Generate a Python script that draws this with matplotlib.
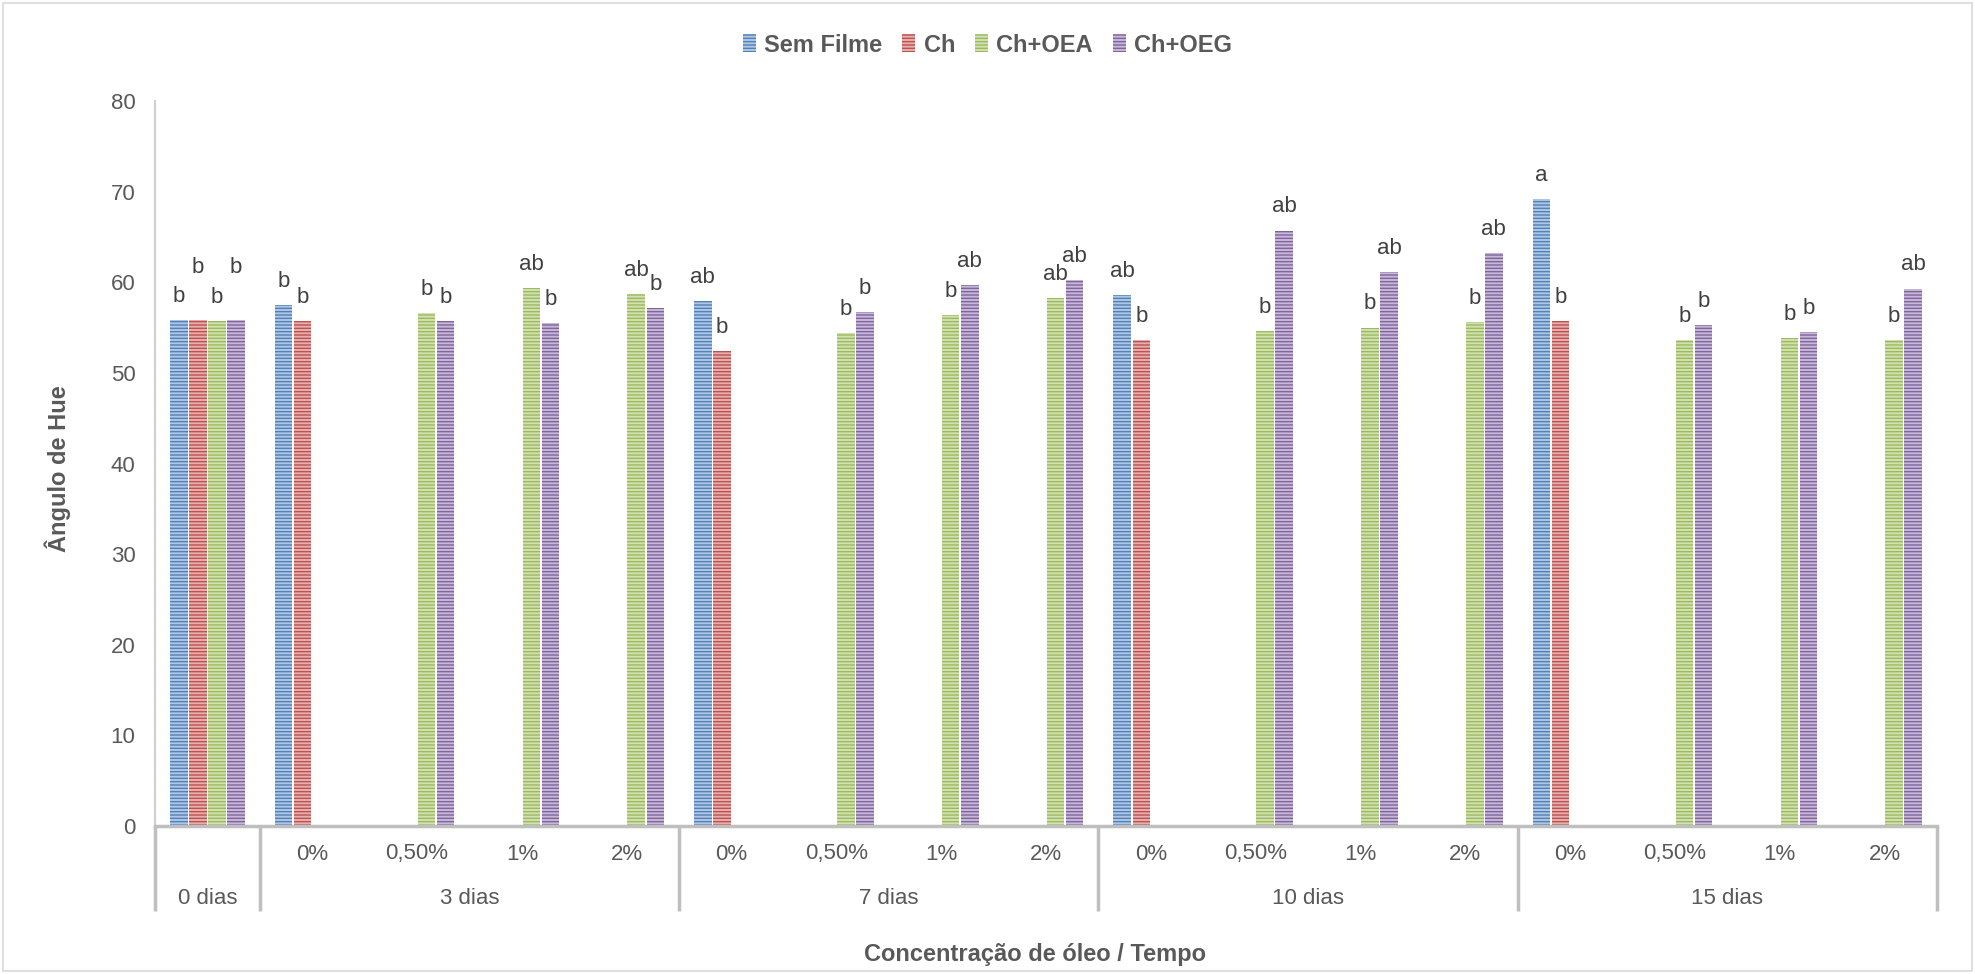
import numpy as np
import matplotlib
matplotlib.use("Agg")
import matplotlib.pyplot as plt
from matplotlib.colors import to_rgb

plt.rcParams["font.family"] = ["Liberation Sans", "DejaVu Sans"]
plt.rcParams["hatch.linewidth"] = 1.0

# categories: (concentration, storage time)
subcats = ["", "0%", "0,50%", "1%", "2%", "0%", "0,50%", "1%", "2%",
           "0%", "0,50%", "1%", "2%", "0%", "0,50%", "1%", "2%"]
groups = ["0 dias", "3 dias", "7 dias", "10 dias", "15 dias"]
group_sizes = [1, 4, 4, 4, 4]

series = ["Sem Filme", "Ch", "Ch+OEA", "Ch+OEG"]
colors = ["#4F81BD", "#C0504D", "#9BBB59", "#8064A2"]

nan = np.nan
sem_filme = [55.8, 57.5, nan, nan, nan, 57.9, nan, nan, nan, 58.6, nan, nan, nan, 69.2, nan, nan, nan]
ch = [55.8, 55.7, nan, nan, nan, 52.4, nan, nan, nan, 53.6, nan, nan, nan, 55.7, nan, nan, nan]
ch_oea = [55.7, nan, 56.6, 59.4, 58.7, nan, 54.4, 56.4, 58.3, nan, 54.6, 55.0, 55.6, nan, 53.6, 53.8, 53.6]
ch_oeg = [55.8, nan, 55.7, 55.5, 57.2, nan, 56.7, 59.7, 60.2, nan, 65.7, 61.1, 63.2, nan, 55.3, 54.5, 59.3]

let_sem_filme = ["b", "b", "", "", "", "ab", "", "", "", "ab", "", "", "", "a", "", "", ""]
let_ch = ["b", "b", "", "", "", "b", "", "", "", "b", "", "", "", "b", "", "", ""]
let_ch_oea = ["b", "", "b", "ab", "ab", "", "b", "b", "ab", "", "b", "b", "b", "", "b", "b", "b"]
let_ch_oeg = ["b", "", "b", "b", "b", "", "b", "ab", "ab", "", "ab", "ab", "ab", "", "b", "b", "ab"]

values = [sem_filme, ch, ch_oea, ch_oeg]
letters = [let_sem_filme, let_ch, let_ch_oea, let_ch_oeg]

W, H = 1975, 974
fig = plt.figure(figsize=(W / 100, H / 100), dpi=100)
x0, x1, y0, y1 = 155, 1937, 826, 101
ax = fig.add_axes([x0 / W, 1 - y0 / H, (x1 - x0) / W, (y0 - y1) / H])

gray_txt = "#595959"
line_col = "#BFBFBF"


def lighten(c, f=0.55):
    r, g, b = to_rgb(c)
    return (r + (1 - r) * f, g + (1 - g) * f, b + (1 - b) * f)


n = len(subcats)
x = np.arange(n)
slot = 0.182
handles = []
for k, (name, vals, col) in enumerate(zip(series, values, colors)):
    pos = x + (k - 1.5) * slot
    bars = ax.bar(pos, vals, width=slot * 0.92, facecolor=lighten(col),
                  edgecolor=col, linewidth=0, hatch="-----", label=name)
    handles.append(bars)
    for i, (v, t) in enumerate(zip(vals, letters[k])):
        if np.isnan(v) or not t:
            continue
        dy = 17
        # staggered letters over the first group
        if i == 0 and k in (1, 3):
            dy = 38
        ax.annotate(t, (pos[i], v), xytext=(0, dy), textcoords="offset points",
                    ha="center", va="center", fontsize=16, color="#404040")

ax.set_xlim(-0.5, n - 0.5)
ax.set_ylim(0, 80)
ax.set_yticks(range(0, 81, 10))
ax.tick_params(axis="y", length=0, labelsize=16, labelcolor=gray_txt, pad=14)
ax.set_xticks([])
for s in ["top", "right"]:
    ax.spines[s].set_visible(False)
ax.spines["left"].set_color("#D0D0D0")
ax.spines["left"].set_linewidth(1.5)
ax.spines["bottom"].set_color(line_col)
ax.spines["bottom"].set_linewidth(2.5)

# multi-level category axis
trans = ax.get_xaxis_transform()
sub_y = -(854 - y0) / (y0 - y1)
grp_y = -(899 - y0) / (y0 - y1)
sep_y = -(911 - y0) / (y0 - y1)
for i, s in enumerate(subcats):
    if s:
        ax.text(i, sub_y, s, transform=trans, ha="center", va="center",
                fontsize=16, color=gray_txt)
start = 0
edges = [-0.5]
for g, size in zip(groups, group_sizes):
    ax.text(start + (size - 1) / 2, grp_y, g, transform=trans, ha="center",
            va="center", fontsize=16, color=gray_txt)
    start += size
    edges.append(start - 0.5)
for e in edges:
    ax.plot([e, e], [0, sep_y], transform=trans, color=line_col, lw=2.5,
            clip_on=False, solid_capstyle="butt")

fig.text(1035 / W, 1 - 954 / H, "Concentração de óleo / Tempo",
         ha="center", va="center", fontsize=17, fontweight="bold", color=gray_txt)
fig.text(58 / W, 1 - 469 / H, "Ângulo de Hue", rotation=90, ha="center",
         va="center", fontsize=17, fontweight="bold", color=gray_txt)

leg = fig.legend(handles=handles, loc="center", bbox_to_anchor=(0.5, 1 - 45 / H),
                 ncol=4, frameon=False, handlelength=0.55, handleheight=0.8,
                 handletextpad=0.35, columnspacing=0.85,
                 prop={"size": 17, "weight": "bold"})
for t in leg.get_texts():
    t.set_color(gray_txt)

# outer chart border
fig.add_artist(plt.Rectangle((3 / W, 3 / H), 1 - 6 / W, 1 - 6 / H,
                             transform=fig.transFigure, fill=False,
                             edgecolor="#D9D9D9", lw=1.2))

fig.savefig("out.png", dpi=100)
